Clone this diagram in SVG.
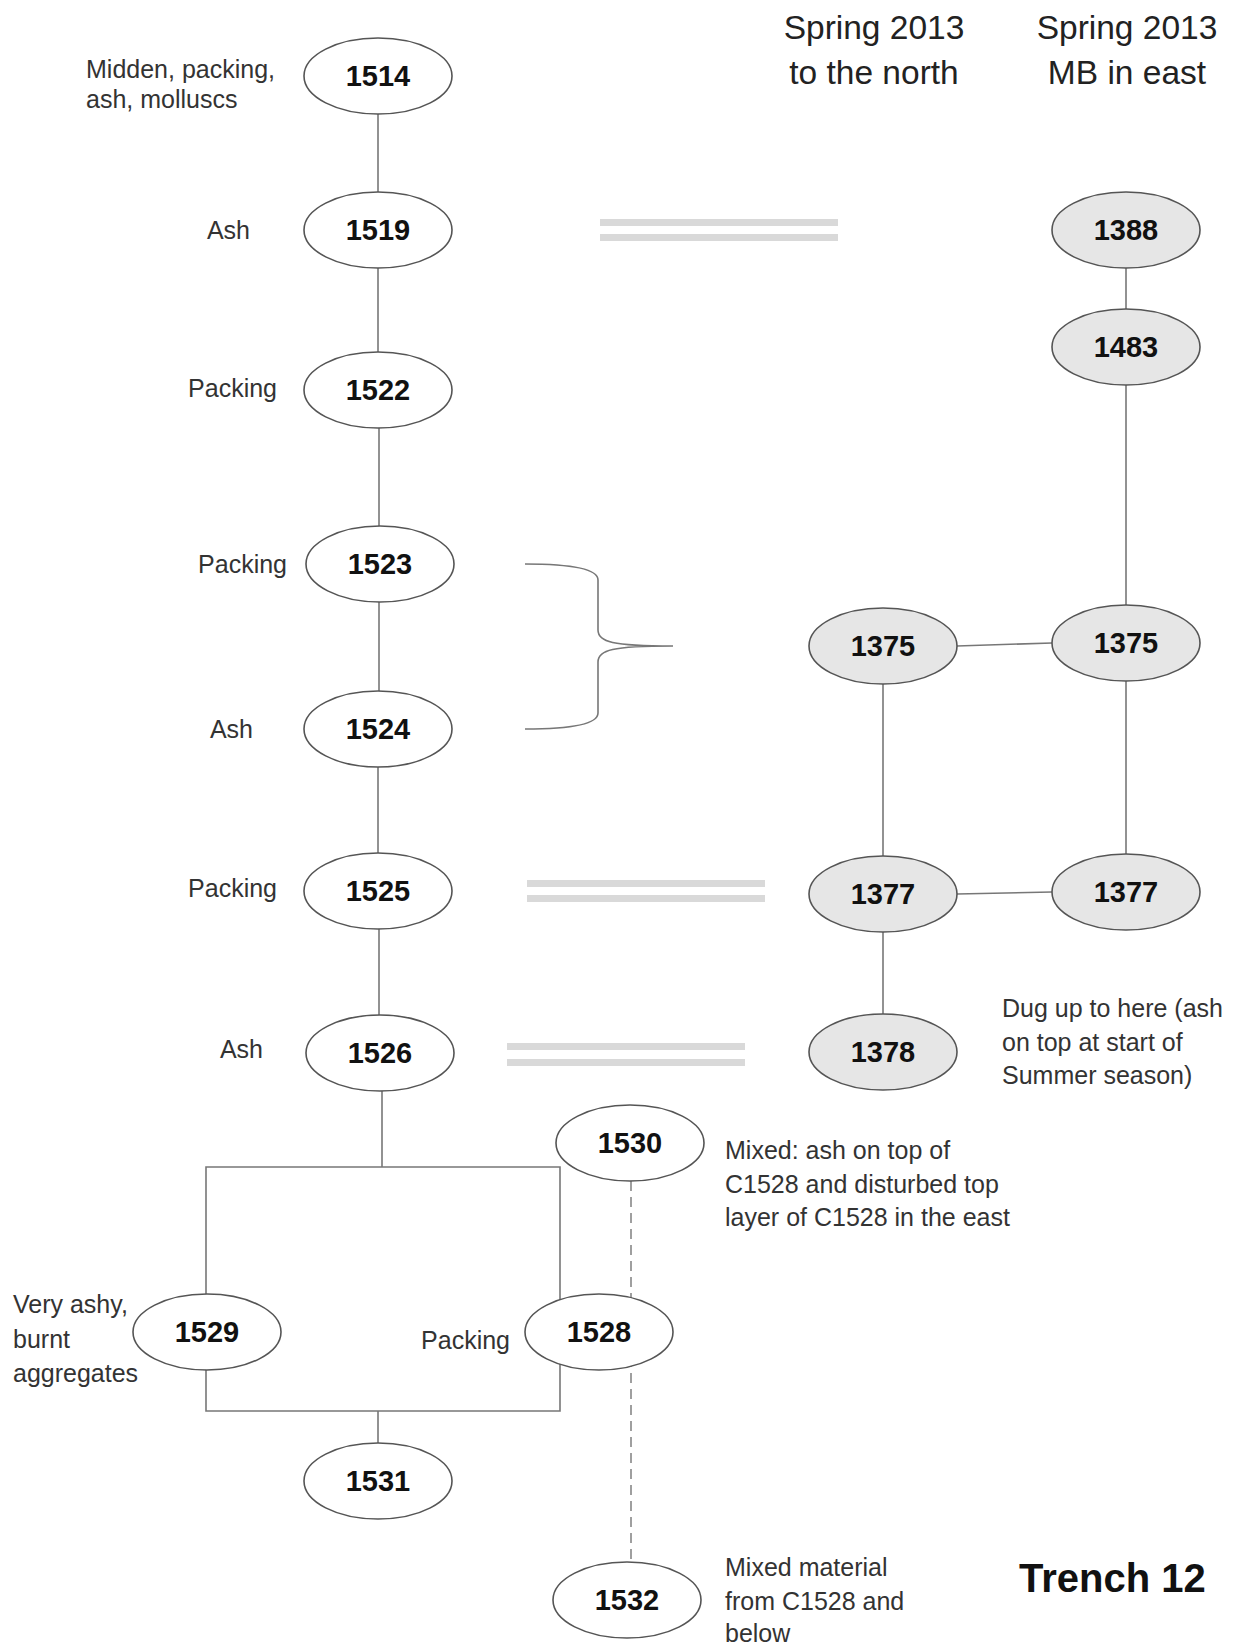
<svg xmlns="http://www.w3.org/2000/svg" width="1244" height="1647" viewBox="0 0 1244 1647">
<style>
.bg{fill:#ffffff}
.n ellipse{fill:#ffffff;stroke:#555555;stroke-width:1.6}
.g ellipse{fill:#e6e6e6}
.num{font-family:"Liberation Sans",Arial,sans-serif;font-weight:bold;font-size:29px;fill:#111111;text-anchor:middle}
.lbl{font-family:"Liberation Sans",Arial,sans-serif;font-size:25px;fill:#333333}
.end{text-anchor:end}
.hdr{font-family:"Liberation Sans",Arial,sans-serif;font-size:33.5px;fill:#222222;text-anchor:middle}
.ttl{font-family:"Liberation Sans",Arial,sans-serif;font-weight:bold;font-size:40px;fill:#111111}
.c line,.c path{stroke:#777777;stroke-width:1.6;fill:none}
.c .dash{stroke-dasharray:10 6;stroke:#888888}
.eq{fill:#d9d9d9}
</style>
<rect class="bg" x="0" y="0" width="1244" height="1647"/>

<g id="headers">
<text class="hdr" x="874" y="39">Spring 2013</text>
<text class="hdr" x="874" y="84">to the north</text>
<text class="hdr" x="1127" y="39">Spring 2013</text>
<text class="hdr" x="1127" y="84">MB in east</text>
</g>

<g id="connectors" class="c">
<line x1="378" y1="114" x2="378" y2="192"/>
<line x1="378" y1="268" x2="378" y2="352"/>
<line x1="379" y1="428" x2="379" y2="526"/>
<line x1="379" y1="602" x2="379" y2="691"/>
<line x1="378" y1="767" x2="378" y2="853"/>
<line x1="379" y1="929" x2="379" y2="1015"/>
<line x1="382" y1="1091" x2="382" y2="1167"/>
<path d="M206,1294 L206,1167 L560,1167 L560,1411 L206,1411 L206,1294"/>
<line x1="378" y1="1411" x2="378" y2="1443"/>
<line class="dash" x1="631" y1="1181" x2="631" y2="1562"/>
<line x1="1126" y1="268" x2="1126" y2="309"/>
<line x1="1126" y1="385" x2="1126" y2="605"/>
<line x1="1126" y1="681" x2="1126" y2="854"/>
<line x1="883" y1="684" x2="883" y2="856"/>
<line x1="883" y1="932" x2="883" y2="1014"/>
<line x1="957" y1="646" x2="1052" y2="643"/>
<line x1="957" y1="894" x2="1052" y2="892"/>
<path d="M525,564 Q598,564 598,580 L598,630 C598,642 612,646 673,646 C612,646 598,650 598,662 L598,713 Q598,729 525,729"/>
<rect class="eq" x="600" y="219" width="238" height="7"/>
<rect class="eq" x="600" y="234" width="238" height="7"/>
<rect class="eq" x="527" y="880" width="238" height="7"/>
<rect class="eq" x="527" y="895" width="238" height="7"/>
<rect class="eq" x="507" y="1043" width="238" height="7"/>
<rect class="eq" x="507" y="1059" width="238" height="7"/>
</g>

<g id="n1514" class="n"><ellipse cx="378" cy="76" rx="74" ry="38"/><text class="num" x="378" y="86">1514</text></g>
<g id="n1519" class="n"><ellipse cx="378" cy="230" rx="74" ry="38"/><text class="num" x="378" y="240">1519</text></g>
<g id="n1522" class="n"><ellipse cx="378" cy="390" rx="74" ry="38"/><text class="num" x="378" y="400">1522</text></g>
<g id="n1523" class="n"><ellipse cx="380" cy="564" rx="74" ry="38"/><text class="num" x="380" y="574">1523</text></g>
<g id="n1524" class="n"><ellipse cx="378" cy="729" rx="74" ry="38"/><text class="num" x="378" y="739">1524</text></g>
<g id="n1525" class="n"><ellipse cx="378" cy="891" rx="74" ry="38"/><text class="num" x="378" y="901">1525</text></g>
<g id="n1526" class="n"><ellipse cx="380" cy="1053" rx="74" ry="38"/><text class="num" x="380" y="1063">1526</text></g>
<g id="n1530" class="n"><ellipse cx="630" cy="1143" rx="74" ry="38"/><text class="num" x="630" y="1153">1530</text></g>
<g id="n1529" class="n"><ellipse cx="207" cy="1332" rx="74" ry="38"/><text class="num" x="207" y="1342">1529</text></g>
<g id="n1528" class="n"><ellipse cx="599" cy="1332" rx="74" ry="38"/><text class="num" x="599" y="1342">1528</text></g>
<g id="n1531" class="n"><ellipse cx="378" cy="1481" rx="74" ry="38"/><text class="num" x="378" y="1491">1531</text></g>
<g id="n1532" class="n"><ellipse cx="627" cy="1600" rx="74" ry="38"/><text class="num" x="627" y="1610">1532</text></g>
<g id="n1388" class="n g"><ellipse cx="1126" cy="230" rx="74" ry="38"/><text class="num" x="1126" y="240">1388</text></g>
<g id="n1483" class="n g"><ellipse cx="1126" cy="347" rx="74" ry="38"/><text class="num" x="1126" y="357">1483</text></g>
<g id="n1375a" class="n g"><ellipse cx="883" cy="646" rx="74" ry="38"/><text class="num" x="883" y="656">1375</text></g>
<g id="n1375b" class="n g"><ellipse cx="1126" cy="643" rx="74" ry="38"/><text class="num" x="1126" y="653">1375</text></g>
<g id="n1377a" class="n g"><ellipse cx="883" cy="894" rx="74" ry="38"/><text class="num" x="883" y="904">1377</text></g>
<g id="n1377b" class="n g"><ellipse cx="1126" cy="892" rx="74" ry="38"/><text class="num" x="1126" y="902">1377</text></g>
<g id="n1378" class="n g"><ellipse cx="883" cy="1052" rx="74" ry="38"/><text class="num" x="883" y="1062">1378</text></g>

<g id="labels">
<text class="lbl" x="86" y="78">Midden, packing,</text>
<text class="lbl" x="86" y="108">ash, molluscs</text>
<text class="lbl end" x="250" y="239">Ash</text>
<text class="lbl end" x="277" y="397">Packing</text>
<text class="lbl end" x="287" y="573">Packing</text>
<text class="lbl end" x="253" y="738">Ash</text>
<text class="lbl end" x="277" y="897">Packing</text>
<text class="lbl end" x="263" y="1058">Ash</text>
<text class="lbl" x="1002" y="1017">Dug up to here (ash</text>
<text class="lbl" x="1002" y="1051">on top at start of</text>
<text class="lbl" x="1002" y="1084">Summer season)</text>
<text class="lbl" x="725" y="1159">Mixed: ash on top of</text>
<text class="lbl" x="725" y="1193">C1528 and disturbed top</text>
<text class="lbl" x="725" y="1226">layer of C1528 in the east</text>
<text class="lbl" x="13" y="1313">Very ashy,</text>
<text class="lbl" x="13" y="1348">burnt</text>
<text class="lbl" x="13" y="1382">aggregates</text>
<text class="lbl end" x="510" y="1349">Packing</text>
<text class="lbl" x="725" y="1576">Mixed material</text>
<text class="lbl" x="725" y="1610">from C1528 and</text>
<text class="lbl" x="725" y="1642">below</text>
<text class="ttl" x="1019" y="1592">Trench 12</text>
</g>
</svg>
